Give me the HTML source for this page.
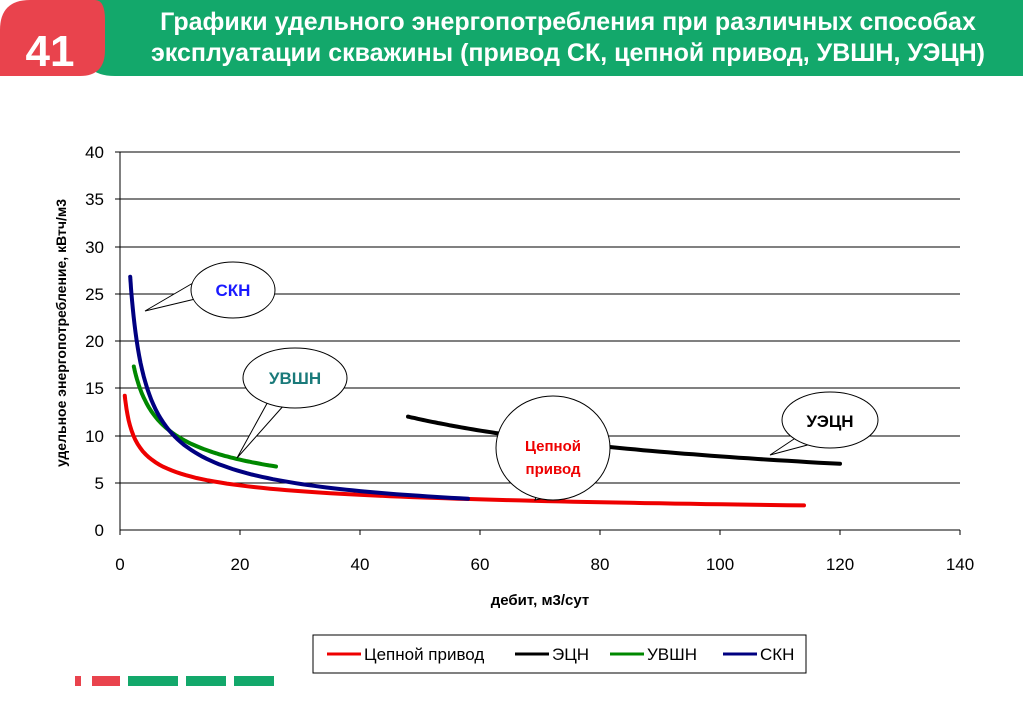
<!DOCTYPE html>
<html><head><meta charset="utf-8"><style>
body{margin:0;width:1023px;height:708px;background:#fff;overflow:hidden;font-family:"Liberation Sans",sans-serif;position:relative}
</style></head><body>
<svg width="1023" height="708" style="position:absolute;left:0;top:0" font-family="Liberation Sans, sans-serif">
<path d="M80 0 H1023 V76 H115 Q80 76 80 40 Z" fill="#13a86b"/>
<path d="M0 76 V30 Q0 0 30 0 H95 Q105 0 105 20 V50 Q105 76 80 76 Z" fill="#e9434d"/>
<text x="50" y="66" font-size="44" font-weight="bold" fill="#fff" text-anchor="middle">41</text>
<text x="568" y="30" font-size="25" font-weight="bold" fill="#fff" text-anchor="middle">Графики удельного энергопотребления при различных способах</text>
<text x="568" y="61" font-size="25" font-weight="bold" fill="#fff" text-anchor="middle">эксплуатации скважины (привод СК, цепной привод, УВШН, УЭЦН)</text>
<g stroke="#000" stroke-width="1">
<line x1="120" y1="152" x2="960" y2="152"/><line x1="120" y1="199" x2="960" y2="199"/><line x1="120" y1="247" x2="960" y2="247"/><line x1="120" y1="294" x2="960" y2="294"/><line x1="120" y1="341" x2="960" y2="341"/><line x1="120" y1="388" x2="960" y2="388"/><line x1="120" y1="436" x2="960" y2="436"/><line x1="120" y1="483" x2="960" y2="483"/><line x1="120" y1="530" x2="960" y2="530"/>
<line x1="120" y1="152" x2="120" y2="535"/>
<line x1="115" y1="152" x2="120" y2="152"/><line x1="115" y1="199" x2="120" y2="199"/><line x1="115" y1="247" x2="120" y2="247"/><line x1="115" y1="294" x2="120" y2="294"/><line x1="115" y1="341" x2="120" y2="341"/><line x1="115" y1="388" x2="120" y2="388"/><line x1="115" y1="436" x2="120" y2="436"/><line x1="115" y1="483" x2="120" y2="483"/>
<line x1="240" y1="530" x2="240" y2="535"/><line x1="360" y1="530" x2="360" y2="535"/><line x1="480" y1="530" x2="480" y2="535"/><line x1="600" y1="530" x2="600" y2="535"/><line x1="720" y1="530" x2="720" y2="535"/><line x1="840" y1="530" x2="840" y2="535"/><line x1="960" y1="530" x2="960" y2="535"/>
</g>
<g font-size="17" text-anchor="end" fill="#000">
<text x="104" y="158">40</text><text x="104" y="205">35</text><text x="104" y="253">30</text><text x="104" y="300">25</text><text x="104" y="347">20</text><text x="104" y="394">15</text><text x="104" y="442">10</text><text x="104" y="489">5</text><text x="104" y="536">0</text>
</g>
<g font-size="17" text-anchor="middle" fill="#000">
<text x="120" y="570">0</text><text x="240" y="570">20</text><text x="360" y="570">40</text><text x="480" y="570">60</text><text x="600" y="570">80</text><text x="720" y="570">100</text><text x="840" y="570">120</text><text x="960" y="570">140</text>
</g>
<text x="540" y="605" font-size="15" font-weight="bold" text-anchor="middle">дебит, м3/сут</text>
<text transform="translate(66,333) rotate(-90)" font-size="14" font-weight="bold" text-anchor="middle">удельное энергопотребление, кВтч/м3</text>
<g id="curves" fill="none" stroke-width="4" stroke-linecap="round"></g>
<g stroke="#000" stroke-width="1" fill="#fff">
<path d="M205 276 L145 311 L212 295"/><ellipse cx="233" cy="290" rx="42" ry="28"/>
<path d="M270 398 L237 458 L285 404"/><ellipse cx="295" cy="378" rx="52" ry="30"/>
<path d="M540 485 L535 500 L560 495"/><ellipse cx="553" cy="448" rx="57" ry="52"/>
<path d="M800 435 L770 455 L815 443"/><ellipse cx="830" cy="420" rx="48" ry="28"/>
</g>
<text x="233" y="296" font-size="17" font-weight="bold" fill="#1a1aff" text-anchor="middle">СКН</text>
<text x="295" y="384" font-size="17" font-weight="bold" fill="#1a7a7a" text-anchor="middle">УВШН</text>
<text x="553" y="451" font-size="15" font-weight="bold" fill="#e00" text-anchor="middle">Цепной</text>
<text x="553" y="474" font-size="15" font-weight="bold" fill="#e00" text-anchor="middle">привод</text>
<text x="830" y="427" font-size="17" font-weight="bold" fill="#000" text-anchor="middle">УЭЦН</text>
<rect x="313" y="635" width="493" height="38" fill="#fff" stroke="#000" stroke-width="1"/>
<g stroke-width="3"><line x1="327" y1="654" x2="361" y2="654" stroke="#e00"/><line x1="515" y1="654" x2="549" y2="654" stroke="#000"/><line x1="610" y1="654" x2="644" y2="654" stroke="#080"/><line x1="723" y1="654" x2="757" y2="654" stroke="#000080"/></g>
<g font-size="17" fill="#000"><text x="364" y="660">Цепной привод</text><text x="552" y="660">ЭЦН</text><text x="647" y="660">УВШН</text><text x="760" y="660">СКН</text></g>
<g fill="#e9434d"><rect x="75" y="676" width="6" height="10"/><rect x="92" y="676" width="28" height="10"/></g>
<g fill="#13a86b"><rect x="128" y="676" width="50" height="10"/><rect x="186" y="676" width="40" height="10"/><rect x="234" y="676" width="40" height="10"/></g>
</svg>
<script>
var g=document.getElementById('curves');
function curve(a,b,x0,x1,col){var d='';for(var i=0;i<=80;i++){var x=x0+(x1-x0)*Math.pow(i/80,2);var y=a*Math.pow(x,-b);d+=(i?'L':'M')+(120+6*x).toFixed(1)+' '+(530-9.45*y).toFixed(1);}
var p=document.createElementNS('http://www.w3.org/2000/svg','path');p.setAttribute('d',d);p.setAttribute('stroke',col);g.appendChild(p);}
curve(14.2*Math.pow(0.8,0.342),0.342,0.8,114,'#e00');
curve(12*Math.pow(48,0.588),0.588,48,120,'#000');
curve(17.3*Math.pow(2.3,0.39),0.39,2.3,26,'#080');
curve(26.8*Math.pow(1.7,0.593),0.593,1.7,58,'#000080');
</script>
</body></html>
